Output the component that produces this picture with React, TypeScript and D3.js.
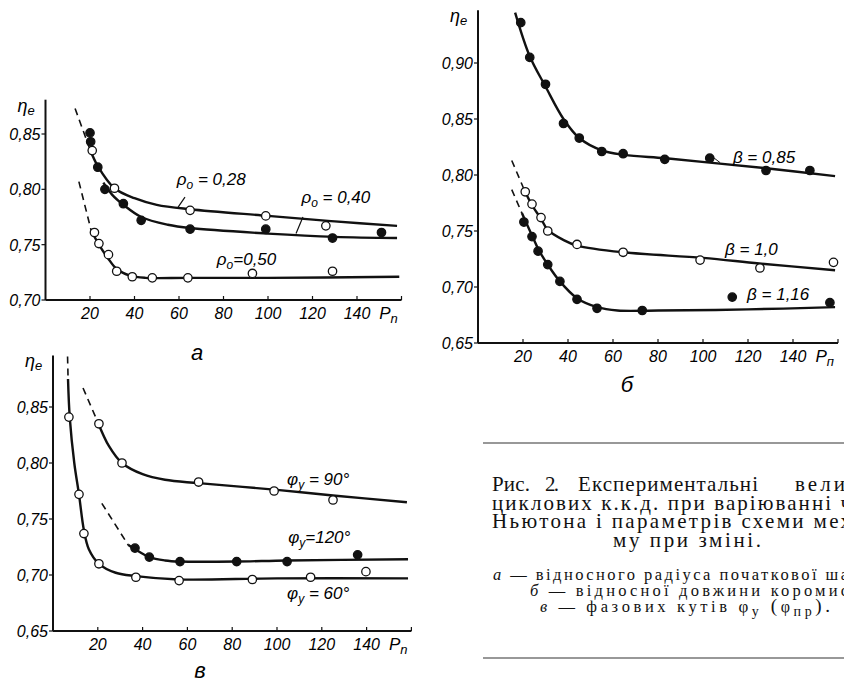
import React from "react";
import * as d3 from "d3";

type P = [number, number];

// shared x ticks (P_n)
const xTicks = [20, 40, 60, 80, 100, 120, 140];
const yTicksA = [0.7, 0.75, 0.8, 0.85];
const yTicksB = [0.65, 0.7, 0.75, 0.8, 0.85, 0.9];
const yTicksV = [0.65, 0.7, 0.75, 0.8, 0.85];

// panel a: rho0 = 0.28 / 0.40 / 0.50
const rho028Dash: P[] = [[13.3, 0.873], [20, 0.836]];
const rho028Line: P[] = [[20, 0.836], [23.5, 0.821], [31, 0.801], [40, 0.792], [50, 0.786], [65, 0.782], [100, 0.776], [130, 0.771], [158, 0.767]];
const rho028Dots: P[] = [[21, 0.835], [31, 0.801], [65, 0.781], [99, 0.776], [126, 0.767]];
const rho040Line: P[] = [[26, 0.806], [30, 0.795], [35, 0.786], [43, 0.775], [55, 0.768], [65, 0.765], [100, 0.76], [130, 0.757], [158, 0.756]];
const rho040Dots: P[] = [[20, 0.851], [20.3, 0.843], [23.5, 0.82], [26.7, 0.8], [35, 0.787], [43, 0.772], [65, 0.764], [99, 0.764], [129, 0.756], [151, 0.761]];
const rho050Dash: P[] = [[15, 0.807], [20.5, 0.763]];
const rho050Line: P[] = [[20.5, 0.763], [24, 0.75], [28, 0.738], [32, 0.728], [38, 0.722], [45, 0.72], [64, 0.72], [100, 0.72], [159, 0.721]];
const rho050Dots: P[] = [[22, 0.761], [24, 0.751], [28.3, 0.741], [32, 0.726], [39, 0.721], [48, 0.72], [64, 0.72], [93, 0.724], [129, 0.726]];

// panel б: beta = 0.85 / 1.0 / 1.16
const b085Line: P[] = [[16.5, 0.945], [23, 0.906], [30, 0.879], [38, 0.85], [45, 0.833], [55, 0.822], [65, 0.818], [83, 0.815], [103, 0.811], [128, 0.806], [158.7, 0.799]];
const b085Dots: P[] = [[19, 0.936], [23, 0.905], [30, 0.881], [38, 0.846], [45, 0.833], [55, 0.821], [64.5, 0.819], [83, 0.814], [103, 0.815], [128, 0.804], [147.5, 0.804]];
const b10Dash: P[] = [[15, 0.813], [20.5, 0.787]];
const b10Line: P[] = [[20.5, 0.787], [24, 0.773], [28, 0.761], [31, 0.751], [38, 0.742], [44, 0.737], [64.5, 0.731], [100, 0.726], [125, 0.721], [158.7, 0.715]];
const b10Dots: P[] = [[21, 0.785], [24, 0.774], [28, 0.762], [31, 0.75], [44, 0.738], [64.5, 0.731], [98.7, 0.724], [125.3, 0.717], [158, 0.722]];
const b116Dash: P[] = [[15, 0.787], [19.5, 0.766]];
const b116Line: P[] = [[19.5, 0.766], [24, 0.746], [27, 0.733], [31, 0.72], [36.4, 0.705], [44, 0.69], [53, 0.682], [62, 0.679], [80, 0.679], [120, 0.68], [158.7, 0.682]];
const b116Dots: P[] = [[20.4, 0.758], [24, 0.745], [26.7, 0.732], [31, 0.72], [36.4, 0.705], [44, 0.689], [52.9, 0.681], [73, 0.679], [113, 0.691], [156.4, 0.686]];

// panel в: phi_y = 60 / 90 / 120 deg
const p60Dash: P[] = [[6.5, 0.895], [6.7, 0.878]];
const p60Line: P[] = [[6.7, 0.875], [7.5, 0.84], [9.5, 0.8], [11.6, 0.772], [13.8, 0.74], [16, 0.723], [20.5, 0.71], [28, 0.702], [37, 0.699], [56, 0.696], [100, 0.697], [158.5, 0.697]];
const p60Dots: P[] = [[7.1, 0.841], [11.6, 0.772], [13.8, 0.737], [20.5, 0.71], [37, 0.698], [56.3, 0.695], [89, 0.696], [115, 0.698], [139.7, 0.703]];
const p90Dash: P[] = [[13.4, 0.867], [20.1, 0.836]];
const p90Line: P[] = [[20.1, 0.836], [25, 0.815], [30.8, 0.8], [40, 0.79], [50, 0.785], [65, 0.782], [100, 0.776], [125, 0.771], [158, 0.765]];
const p90Dots: P[] = [[20.5, 0.835], [30.8, 0.8], [65, 0.783], [98.7, 0.775], [125, 0.767]];
const p120Dash: P[] = [[21.8, 0.764], [33.5, 0.727]];
const p120Line: P[] = [[33.5, 0.727], [36.6, 0.723], [43, 0.716], [50, 0.713], [56.7, 0.712], [82, 0.712], [104.5, 0.713], [158.5, 0.714]];
const p120Dots: P[] = [[36.6, 0.724], [43, 0.716], [56.7, 0.712], [82, 0.712], [104.5, 0.712], [136, 0.718]];

// caption text, cut by the page edge in the scan: word, left, width
const capLine1: [string, number, number][] = [["Рис.", 492, 38], ["2.", 545, 14], ["Експериментальні", 578, 180], ["вели", 795, 50]];
const capLines = ["циклових к.к.д. при варіюванні ч", "Ньютона і параметрів схеми мех"];
const capLine4 = "му при зміні.";
const capSmall = ["відносного радіуса початкової  ша", "відносної  довжини  коромис", "фазових  кутів "];

const PF = "'Liberation Sans', Arial, sans-serif";
const SF = "'Liberation Serif', 'DejaVu Serif', serif";

const fmt = (v: number) => d3.format(".2f")(v).replace(".", ",");

type Series = { line: P[]; dash?: P[]; dots: P[]; filled: boolean };

function Panel(props: {
  xr: [number, number];
  yDom: [number, number];
  yRange: [number, number];
  yTop: number;
  yTicks: number[];
  series: Series[];
  pSub: string;
  children?: (x: d3.ScaleLinear<number, number>, y: d3.ScaleLinear<number, number>) => React.ReactNode;
}) {
  const x = d3.scaleLinear().domain([0, 160]).range(props.xr);
  const y = d3.scaleLinear().domain(props.yDom).range(props.yRange);
  const gen = d3
    .line<P>()
    .x((d) => x(d[0]))
    .y((d) => y(d[1]))
    .curve(d3.curveCatmullRom.alpha(0.5));
  const x0 = x(0);
  const yb = y(props.yDom[0]);
  return (
    <g>
      {/* axes */}
      <line x1={x0} x2={x0} y1={y(props.yTop)} y2={yb} stroke="#111" strokeWidth={2} />
      <line x1={x0} x2={x(160)} y1={yb} y2={yb} stroke="#111" strokeWidth={2} />
      {xTicks.map((t) => (
        <g key={t}>
          <line x1={x(t)} x2={x(t)} y1={yb} y2={yb - 4} stroke="#111" strokeWidth={1.2} />
          <text x={x(t)} y={yb + 19} textAnchor="middle" fontSize={16} fontStyle="italic" fontFamily={PF}>
            {t}
          </text>
        </g>
      ))}
      <line x1={x(160)} x2={x(160)} y1={yb} y2={yb - 4} stroke="#111" strokeWidth={1.2} />
      {props.yTicks.map((t) => (
        <g key={t}>
          <line x1={x0 - 4} x2={x0} y1={y(t)} y2={y(t)} stroke="#111" strokeWidth={1.2} />
          <text x={x0 - 5} y={y(t) + 6} textAnchor="end" fontSize={16} fontStyle="italic" fontFamily={PF}>
            {fmt(t)}
          </text>
        </g>
      ))}
      <text x={x(150)} y={yb + 19} fontSize={17} fontStyle="italic" fontFamily={PF}>
        P<tspan fontSize={13} dy={4}>{props.pSub}</tspan>
      </text>
      <text x={x0 - 28} y={y(props.yTop) + 12} fontSize={18} fontStyle="italic" fontFamily={PF}>
        η<tspan fontSize={13} dy={3}>e</tspan>
      </text>
      {/* curves */}
      {props.series.map((s, i) => (
        <g key={i}>
          {s.dash && <path d={gen(s.dash) || ""} fill="none" stroke="#111" strokeWidth={1.6} strokeDasharray="7,5" />}
          <path d={gen(s.line) || ""} fill="none" stroke="#111" strokeWidth={2.4} />
          {s.dots.map((d, j) => (
            <circle
              key={j}
              cx={x(d[0])}
              cy={y(d[1])}
              r={4.2}
              fill={s.filled ? "#111" : "#fff"}
              stroke="#111"
              strokeWidth={1.3}
            />
          ))}
        </g>
      ))}
      {props.children && props.children(x, y)}
    </g>
  );
}

const lbl = { fontSize: 17, fontStyle: "italic" as const, fontFamily: PF };
const cap = { fontFamily: SF, fill: "#111" };

export default function App() {
  return (
    <div style={{ position: "absolute", left: 0, top: 0 }}>
      <svg width={844} height={689} style={{ display: "block", background: "#fff" }}>
        <rect width={844} height={689} fill="#fff" />
        {/* panel a */}
        <Panel
          xr={[45.5, 401.5]}
          yDom={[0.7, 0.85]}
          yRange={[300, 134]}
          yTop={0.881}
          yTicks={yTicksA}
          pSub="n"
          series={[
            { line: rho028Line, dash: rho028Dash, dots: rho028Dots, filled: false },
            { line: rho040Line, dots: rho040Dots, filled: true },
            { line: rho050Line, dash: rho050Dash, dots: rho050Dots, filled: false },
          ]}
        >
          {(x, y) => (
            <g>
              <line x1={x(59.6)} y1={y(0.784)} x2={x(62.7)} y2={y(0.793)} stroke="#111" strokeWidth={1.2} />
              <text x={x(59)} y={y(0.804)} {...lbl}>
                ρ<tspan fontSize={12} dy={4}>o</tspan>
                <tspan dy={-4}> = 0,28</tspan>
              </text>
              <line x1={x(112.6)} y1={y(0.76)} x2={x(115.7)} y2={y(0.775)} stroke="#111" strokeWidth={1.2} />
              <text x={x(115)} y={y(0.788)} {...lbl}>
                ρ<tspan fontSize={12} dy={4}>o</tspan>
                <tspan dy={-4}> = 0,40</tspan>
              </text>
              <text x={x(77)} y={y(0.732)} {...lbl}>
                ρ<tspan fontSize={12} dy={4}>o</tspan>
                <tspan dy={-4}>=0,50</tspan>
              </text>
            </g>
          )}
        </Panel>
        <text x={197} y={360} fontSize={22} fontStyle="italic" fontFamily={PF} textAnchor="middle">
          а
        </text>

        {/* panel б */}
        <Panel
          xr={[478, 838]}
          yDom={[0.65, 0.9]}
          yRange={[343, 63]}
          yTop={0.947}
          yTicks={yTicksB}
          pSub="п"
          series={[
            { line: b085Line, dots: b085Dots, filled: true },
            { line: b10Line, dash: b10Dash, dots: b10Dots, filled: false },
            { line: b116Line, dash: b116Dash, dots: b116Dots, filled: true },
          ]}
        >
          {(x, y) => (
            <g>
              <line x1={x(104.4)} y1={y(0.816)} x2={x(107.6)} y2={y(0.811)} stroke="#111" strokeWidth={1} />
              <text x={x(113.3)} y={y(0.811)} {...lbl}>β = 0,85</text>
              <text x={x(109.8)} y={y(0.729)} {...lbl}>β = 1,0</text>
              <text x={x(119.6)} y={y(0.688)} {...lbl}>β = 1,16</text>
            </g>
          )}
        </Panel>
        <text x={627} y={392} fontSize={22} fontStyle="italic" fontFamily={PF} textAnchor="middle">
          б
        </text>

        {/* panel в */}
        <Panel
          xr={[53, 411.4]}
          yDom={[0.65, 0.85]}
          yRange={[631, 407]}
          yTop={0.896}
          yTicks={yTicksV}
          pSub="n"
          series={[
            { line: p60Line, dash: p60Dash, dots: p60Dots, filled: false },
            { line: p90Line, dash: p90Dash, dots: p90Dots, filled: false },
            { line: p120Line, dash: p120Dash, dots: p120Dots, filled: true },
          ]}
        >
          {(x, y) => (
            <g>
              <text x={x(104.5)} y={y(0.78)} {...lbl}>
                φ<tspan fontSize={12} dy={4}>y</tspan>
                <tspan dy={-4}> = 90°</tspan>
              </text>
              <text x={x(105)} y={y(0.729)} {...lbl}>
                φ<tspan fontSize={12} dy={4}>y</tspan>
                <tspan dy={-4}>=120°</tspan>
              </text>
              <text x={x(104.5)} y={y(0.679)} {...lbl}>
                φ<tspan fontSize={12} dy={4}>y</tspan>
                <tspan dy={-4}> = 60°</tspan>
              </text>
            </g>
          )}
        </Panel>
        <text x={200} y={678} fontSize={22} fontStyle="italic" fontFamily={PF} textAnchor="middle">
          в
        </text>

        {/* caption */}
        <line x1={483} x2={844} y1={443} y2={443} stroke="#333" strokeWidth={1.2} />
        {capLine1.map(([w, wx, ww]) => (
          <text key={w} x={wx} y={491} fontSize={21} textLength={ww} lengthAdjust="spacing" {...cap}>
            {w}
          </text>
        ))}
        {capLines.map((t, i) => (
          <text key={t} x={492} y={509.5 + i * 18.5} fontSize={21} textLength={359} lengthAdjust="spacing" {...cap}>
            {t}
          </text>
        ))}
        <text x={613} y={546.5} fontSize={21} textLength={148} lengthAdjust="spacing" {...cap}>
          {capLine4}
        </text>
        <text x={493} y={580} fontSize={16.5} textLength={355} lengthAdjust="spacing" {...cap}>
          <tspan fontStyle="italic">а</tspan> — {capSmall[0]}
        </text>
        <text x={530} y={596} fontSize={16.5} textLength={318} lengthAdjust="spacing" {...cap}>
          <tspan fontStyle="italic">б</tspan> — {capSmall[1]}
        </text>
        <text x={540} y={612} fontSize={16.5} textLength={290} lengthAdjust="spacing" {...cap}>
          <tspan fontStyle="italic">в</tspan> — {capSmall[2]}
          <tspan fontSize={17}> φ</tspan>
          <tspan fontSize={14} dy={4}>у</tspan>
          <tspan fontSize={19} dy={-4}> (</tspan>
          <tspan fontSize={16}>φ</tspan>
          <tspan fontSize={14} dy={4}>пр</tspan>
          <tspan fontSize={19} dy={-4}>).</tspan>
        </text>
        <line x1={483} x2={844} y1={658} y2={658} stroke="#333" strokeWidth={1.2} />
      </svg>
    </div>
  );
}
